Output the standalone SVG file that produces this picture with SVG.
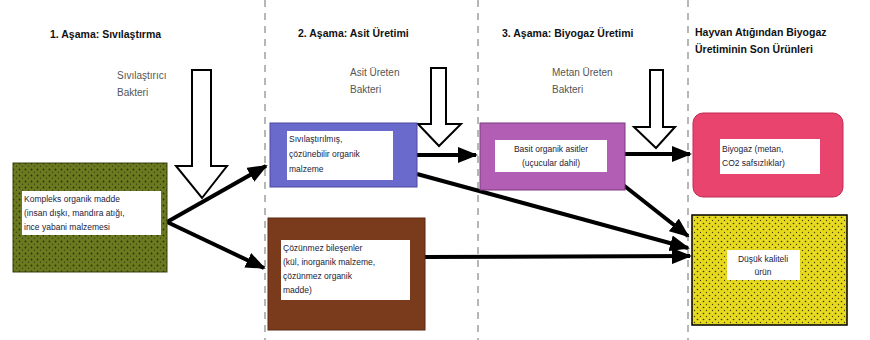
<svg xmlns="http://www.w3.org/2000/svg" width="870" height="340" viewBox="0 0 870 340">
<style>
.hdr{font-family:"Liberation Sans",Arial,sans-serif;font-size:10.5px;font-weight:bold;fill:#111}
.bac{font-family:"Liberation Sans",Arial,sans-serif;font-size:10px;fill:#555}
.box{font-family:"Liberation Sans",Arial,sans-serif;font-size:8.5px;fill:#222238}
.div{stroke:#888;stroke-width:1.2;stroke-dasharray:7 6;fill:none}
.con{stroke:#000;stroke-width:4;fill:none}
.hollow{fill:#fff;stroke:#000;stroke-width:2}
.inner{fill:#fff}
</style>
<defs>
<pattern id="olive" width="6" height="6" patternUnits="userSpaceOnUse">
<rect width="6" height="6" fill="#6b7a1e"/>
<circle cx="1.5" cy="1.5" r="0.9" fill="#2a300a"/>
<circle cx="4.5" cy="4.2" r="0.7" fill="#3a4212"/>
</pattern>
<pattern id="yellow" width="6" height="6" patternUnits="userSpaceOnUse">
<rect width="6" height="6" fill="#e6d81a"/>
<circle cx="1.5" cy="1.5" r="0.8" fill="#3a3608"/>
<circle cx="4.5" cy="4.5" r="0.7" fill="#4a4410"/>
<circle cx="4.5" cy="1" r="0.6" fill="#f8f070"/>
</pattern>
<marker id="ah" markerWidth="5" markerHeight="4" refX="4.5" refY="2" orient="auto" markerUnits="strokeWidth">
<path d="M0,0 L5,2 L0,4 Z" fill="#000"/>
</marker>
</defs>

<g id="dividers">
<line class="div" x1="265" y1="0" x2="265" y2="340"/>
<line class="div" x1="478" y1="0" x2="478" y2="340"/>
<line class="div" x1="688" y1="0" x2="688" y2="340"/>
</g>

<g id="headers">
<text class="hdr" x="50" y="38">1. Aşama: Sıvılaştırma</text>
<text class="hdr" x="298" y="37">2. Aşama: Asit Üretimi</text>
<text class="hdr" x="502" y="37">3. Aşama: Biyogaz Üretimi</text>
<text class="hdr" x="695" y="36">Hayvan Atığından Biyogaz</text>
<text class="hdr" x="695" y="53">Üretiminin Son Ürünleri</text>
</g>

<g id="bacteria1">
<text class="bac" x="117" y="79">Sıvılaştırıcı</text>
<text class="bac" x="117" y="96">Bakteri</text>
<path class="hollow" d="M192,70 H211 V166 H227 L202,198 L176,166 H192 Z"/>
</g>
<g id="bacteria2">
<text class="bac" x="350" y="76">Asit Üreten</text>
<text class="bac" x="350" y="93">Bakteri</text>
<path class="hollow" d="M431,68 H446 V124 H461 L439,146 L418,124 H431 Z"/>
</g>
<g id="bacteria3">
<text class="bac" x="552" y="76">Metan Üreten</text>
<text class="bac" x="552" y="93">Bakteri</text>
<path class="hollow" d="M650,70 H663 V127 H675 L656,148 L634,127 H650 Z"/>
</g>

<g id="connectors">
<line class="con" x1="167" y1="222" x2="266" y2="166" marker-end="url(#ah)"/>
<line class="con" x1="167" y1="222" x2="264" y2="268" marker-end="url(#ah)"/>
<line class="con" x1="417" y1="155" x2="476" y2="155" stroke-width="5" marker-end="url(#ah)"/>
<line class="con" x1="417" y1="174" x2="688" y2="248" marker-end="url(#ah)"/>
<line class="con" x1="625" y1="154" x2="690" y2="154" stroke-width="3" marker-end="url(#ah)"/>
<line class="con" x1="622" y1="184" x2="688" y2="236" stroke-width="3.5" marker-end="url(#ah)"/>
<line class="con" x1="425" y1="257" x2="690" y2="256" stroke-width="2.5" marker-end="url(#ah)"/>
</g>

<g id="complex">
<rect x="13" y="163" width="154" height="109" fill="url(#olive)" stroke="#3a420e" stroke-width="1"/>
<rect class="inner" x="22" y="191" width="139" height="44"/>
<text class="box" x="24" y="202">Kompleks organik madde</text>
<text class="box" x="24" y="216">(insan dışkı, mandıra atığı,</text>
<text class="box" x="24" y="230">ince yabani malzemesi</text>
</g>

<g id="soluble">
<rect x="270" y="123" width="147" height="64" fill="#6a6acc" stroke="#4a4aa0" stroke-width="1"/>
<rect class="inner" x="287" y="131" width="106" height="49"/>
<text class="box" x="289" y="142">Sıvılaştırılmış,</text>
<text class="box" x="289" y="157">çözünebilir organik</text>
<text class="box" x="289" y="172">malzeme</text>
</g>

<g id="acids">
<rect x="480" y="123" width="145" height="67" fill="#b25eb4" stroke="#7a3a7e" stroke-width="1"/>
<rect class="inner" x="495" y="140" width="112" height="32"/>
<text class="box" x="551" y="152" text-anchor="middle">Basit organik asitler</text>
<text class="box" x="551" y="166" text-anchor="middle">(uçucular dahil)</text>
</g>

<g id="biogas">
<rect x="693" y="113" width="150" height="84" rx="10" fill="#e8446e" stroke="#c02a50" stroke-width="1"/>
<rect class="inner" x="720" y="139" width="100" height="35"/>
<text class="box" x="722" y="152">Biyogaz (metan,</text>
<text class="box" x="722" y="166">CO2 safsızlıklar)</text>
</g>

<g id="insoluble">
<rect x="268" y="218" width="157" height="112" fill="#7a3a1c" stroke="#5a2810" stroke-width="1"/>
<rect class="inner" x="281" y="240" width="129" height="60"/>
<text class="box" x="283" y="251">Çözünmez bileşenler</text>
<text class="box" x="283" y="265">(kül, inorganik malzeme,</text>
<text class="box" x="283" y="279">çözünmez organik</text>
<text class="box" x="283" y="293">madde)</text>
</g>

<g id="lowgrade">
<rect x="692" y="215" width="155" height="110" fill="url(#yellow)" stroke="#000" stroke-width="1.5"/>
<rect class="inner" x="727" y="250" width="73" height="30"/>
<text class="box" x="763" y="262" text-anchor="middle">Düşük kaliteli</text>
<text class="box" x="763" y="275" text-anchor="middle">ürün</text>
</g>
</svg>
